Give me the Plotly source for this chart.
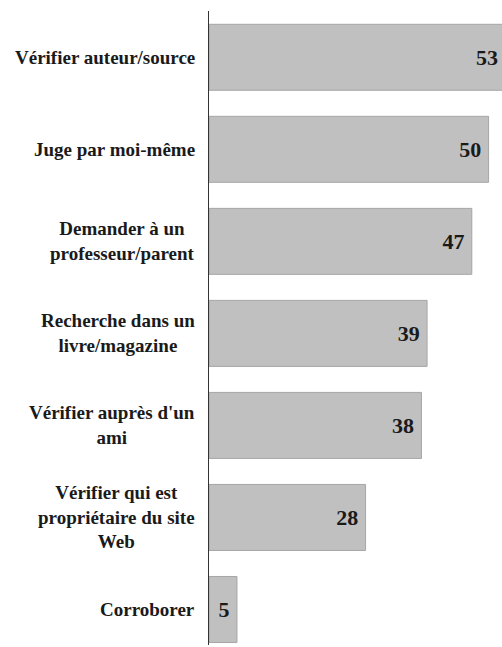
import plotly.graph_objects as go

categories = [
    "Vérifier auteur/source",
    "Juge par moi-même",
    "Demander à un<br>professeur/parent",
    "Recherche dans un<br>livre/magazine",
    "Vérifier auprès d'un<br>ami",
    "Vérifier qui est<br>propriétaire du site<br>Web",
    "Corroborer",
]
values = [53, 50, 47, 39, 38, 28, 5]

positions = list(range(len(categories)))

fig = go.Figure()
fig.add_trace(go.Bar(
    x=values,
    y=positions,
    orientation="h",
    width=0.717,
    marker=dict(color="#c0c0c0", line=dict(color="#a6a6a6", width=1)),
    text=[f"{v}\u2009" for v in values],
    textposition="inside",
    insidetextanchor="end",
    constraintext="none",
    textfont=dict(family="Liberation Serif", size=22, color="#1a1a1a", weight="bold"),
    hoverinfo="skip",
))

for p, c in zip(positions, categories):
    fig.add_annotation(
        x=0, xref="paper", y=p, yref="y",
        text=f"<b>{c}</b>",
        showarrow=False,
        xanchor="right", yanchor="middle",
        align="center",
        xshift=-12,
        font=dict(family="Liberation Serif", size=19, color="#1a1a1a"),
    )

fig.update_layout(
    width=502, height=647,
    margin=dict(l=209, r=0, t=11, b=2),
    plot_bgcolor="white", paper_bgcolor="white",
    showlegend=False,
    xaxis=dict(range=[0, 52.4], visible=False, showgrid=False, zeroline=False),
    yaxis=dict(range=[6.386, -0.503], showticklabels=False, showgrid=False,
               zeroline=False, ticks="", showline=True, linecolor="#333333",
               linewidth=1),
)

fig.write_html(
    "out.html",
    config={"displayModeBar": False},
    post_script="document.body.style.margin='0';document.body.style.overflow='hidden';",
)
